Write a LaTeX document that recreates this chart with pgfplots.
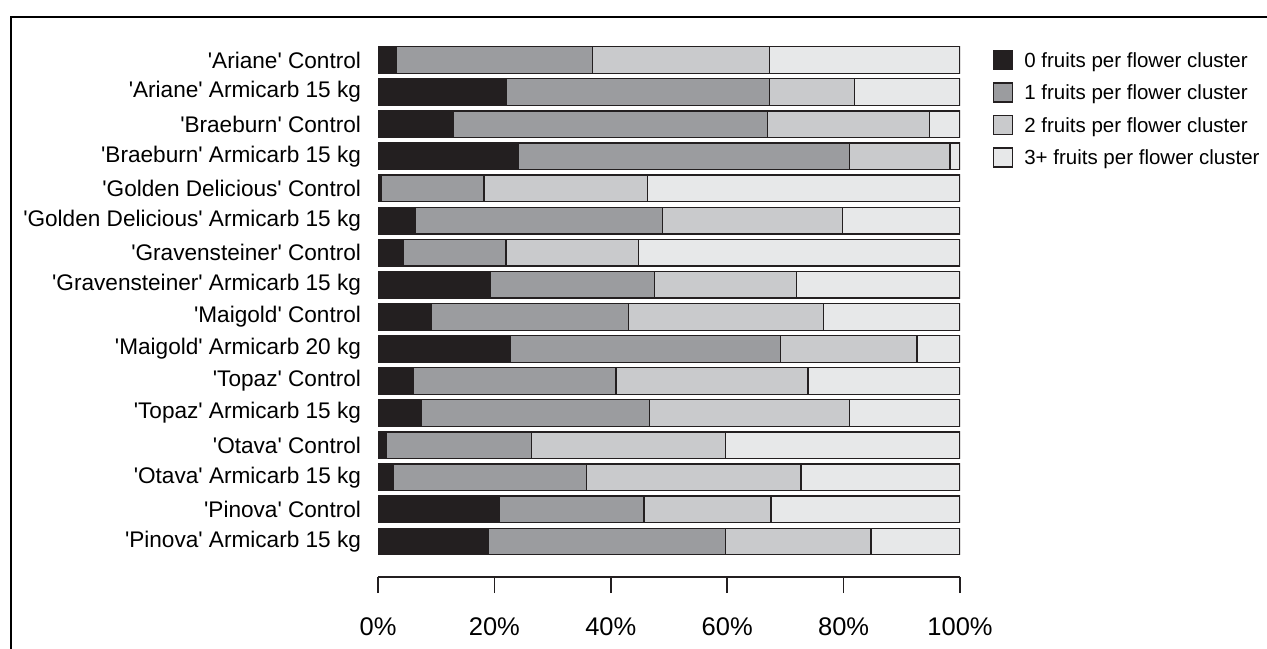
\documentclass[border=0pt]{standalone}
\usepackage{fontspec}
\setmainfont{Liberation Sans}
\usepackage{pgfplots}
\pgfplotsset{compat=1.18}
\usepackage{pgfplotstable}
\definecolor{c0}{HTML}{231F20}
\definecolor{c1}{HTML}{9B9C9F}
\definecolor{c2}{HTML}{C9CACC}
\definecolor{c3}{HTML}{E7E8E9}
\pgfplotstableread{
idx s0 s1 s2 s3
0 3.2 33.7 30.4 32.7
1 22.0 45.3 14.6 18.1
2 12.9 54.0 27.9 5.2
3 24.2 56.8 17.3 1.7
4 0.5 17.7 28.1 53.7
5 6.4 42.5 30.9 20.2
6 4.4 17.6 22.8 55.2
7 19.3 28.2 24.4 28.1
8 9.2 33.8 33.5 23.5
9 22.8 46.4 23.4 7.4
10 6.0 34.9 33.0 26.1
11 7.4 39.3 34.3 19.0
12 1.5 24.9 33.3 40.3
13 2.7 33.1 36.9 27.3
14 20.9 24.8 21.8 32.5
15 19.0 40.7 25.0 15.3
}\datatable
\newcommand{\q}{\textquotesingle}
\begin{document}
\begin{tikzpicture}
\useasboundingbox (0,0) rectangle (633.5pt,-324pt);
\draw[line width=1pt, black] (5.5pt,-400pt) -- (5.5pt,-8.5pt) -- (700pt,-8.5pt);
\begin{axis}[
  at={(189pt,-288.5pt)}, anchor=south west,
  scale only axis, width=291pt, height=266.5pt,
  xbar stacked, bar width=0.83,
  xmin=0, xmax=100, ymin=-0.5, ymax=16.106, y dir=reverse,
  enlargelimits=false,
  axis x line*=bottom, axis y line*=left,
  x axis line style={draw=c0, line width=0.8pt},
  y axis line style={draw=none},
  tick align=outside, major tick length=8pt,
  xtick={0,20,40,60,80,100},
  xticklabels={0\%,20\%,40\%,60\%,80\%,100\%},
  xtick style={draw=c0, line width=0.8pt},
  xticklabel style={font=\fontsize{12.75}{14}\selectfont, anchor=north, inner sep=0pt, yshift=-12pt},
  ytick={0,...,15},
  yticklabels={
    {\q Ariane\q{} Control},
    {\q Ariane\q{} Armicarb 15 kg},
    {\q Braeburn\q{} Control},
    {\q Braeburn\q{} Armicarb 15 kg},
    {\q Golden Delicious\q{} Control},
    {\q Golden Delicious\q{} Armicarb 15 kg},
    {\q Gravensteiner\q{} Control},
    {\q Gravensteiner\q{} Armicarb 15 kg},
    {\q Maigold\q{} Control},
    {\q Maigold\q{} Armicarb 20 kg},
    {\q Topaz\q{} Control},
    {\q Topaz\q{} Armicarb 15 kg},
    {\q Otava\q{} Control},
    {\q Otava\q{} Armicarb 15 kg},
    {\q Pinova\q{} Control},
    {\q Pinova\q{} Armicarb 15 kg}},
  ytick style={draw=none},
  yticklabel style={font=\fontsize{11.3}{13}\selectfont, anchor=east, inner sep=0pt, xshift=-0.3pt},
  every axis plot/.append style={draw=c0, line width=0.65pt},
  legend image code/.code={\draw[#1] (0pt,-4.75pt) rectangle (9.5pt,4.75pt);},
  legend cell align=left,
  legend style={at={(1.0567,0.9887)}, anchor=north west, draw=none, fill=none,
    inner sep=0pt, outer sep=0pt, font=\fontsize{10.25}{12}\selectfont,
    row sep=6.05pt, column sep=5.5pt,
    nodes={inner sep=0pt, outer sep=0pt, text height=8.67pt, text depth=1.33pt}},
]
\addplot[fill=c0] table[x=s0, y=idx] {\datatable};
\addplot[fill=c1] table[x=s1, y=idx] {\datatable};
\addplot[fill=c2] table[x=s2, y=idx] {\datatable};
\addplot[fill=c3] table[x=s3, y=idx] {\datatable};
\legend{0 fruits per flower cluster, 1 fruits per flower cluster, 2 fruits per flower cluster, 3+ fruits per flower cluster}
\end{axis}
\end{tikzpicture}
\end{document}
